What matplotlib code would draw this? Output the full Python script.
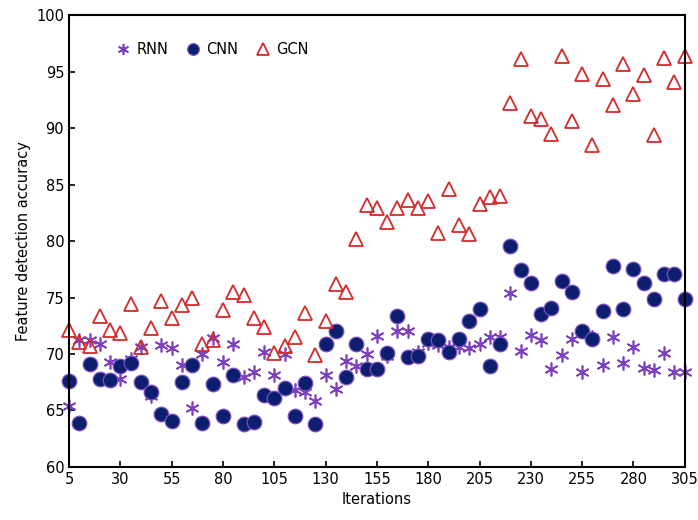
import numpy as np
import matplotlib
matplotlib.use("Agg")
import matplotlib.pyplot as plt

# data
iterations = np.arange(5, 306, 5)

rnn = [65.4, 71.2, 71.2, 70.9, 69.3, 67.8, 69.6, 70.6, 66.3, 70.8,
       70.5, 69.0, 65.2, 70.0, 71.4, 69.3, 70.9, 68.0, 68.4, 70.2,
       68.1, 70.0, 66.8, 66.6, 65.8, 68.1, 66.9, 69.4, 68.9, 70.0,
       71.6, 69.8, 72.0, 72.0, 70.2, 71.0, 70.8, 70.6, 70.6, 70.5,
       70.9, 71.5, 71.5, 75.4, 70.3, 71.7, 71.2, 68.7, 69.9, 71.3,
       68.4, 71.5, 69.0, 71.5, 69.2, 70.6, 68.8, 68.6, 70.1, 68.4,
       68.4]

cnn = [67.6, 63.9, 69.1, 67.8, 67.7, 68.9, 69.2, 67.5, 66.6, 64.7,
       64.1, 67.5, 69.0, 63.9, 67.3, 64.5, 68.1, 63.8, 64.0, 66.4,
       66.1, 67.0, 64.5, 67.4, 63.8, 70.9, 72.0, 68.0, 70.9, 68.7,
       68.7, 70.1, 73.4, 69.7, 69.8, 71.3, 71.2, 70.2, 71.3, 72.9,
       74.0, 68.9, 70.9, 79.6, 77.4, 76.3, 73.5, 74.1, 76.5, 75.5,
       72.0, 71.3, 73.8, 77.8, 74.0, 77.5, 76.3, 74.9, 77.1, 77.1,
       74.9]

gcn = [72.1, 71.1, 70.7, 73.4, 72.1, 71.9, 74.4, 70.6, 72.3, 74.7,
       73.2, 74.3, 75.0, 70.9, 71.2, 73.9, 75.5, 75.2, 73.2, 72.4,
       70.1, 70.7, 71.5, 73.6, 69.9, 72.9, 76.2, 75.5, 80.2, 83.2,
       82.9, 81.7, 82.9, 83.6, 82.9, 83.5, 80.7, 84.6, 81.4, 80.6,
       83.3, 83.9, 84.0, 92.2, 96.1, 91.1, 90.8, 89.5, 96.4, 90.6,
       94.8, 88.5, 94.3, 92.0, 95.7, 93.0, 94.7, 89.4, 96.2, 94.1,
       96.4]

xticks = np.arange(5, 306, 25)
yticks = np.arange(60, 101, 5)

fig = plt.figure(figsize=(6.98, 5.2), dpi=100)
ax = fig.add_axes([0.099, 0.102, 0.882, 0.869])

ax.plot(iterations, rnn, linestyle='none', marker=(6, 2, 0), markersize=10,
        color='#7B3FC0', markeredgewidth=1.2, label='RNN', clip_on=False)
ax.plot(iterations, cnn, linestyle='none', marker='o', markersize=10.5,
        markerfacecolor='#0B1F6E', markeredgecolor='#7B4FC0',
        markeredgewidth=0.9, label='CNN', clip_on=False)
ax.plot(iterations, gcn, linestyle='none', marker='^', markersize=10,
        markerfacecolor='none', markeredgecolor='#D42A2A',
        markeredgewidth=1.3, label='GCN', clip_on=False)

ax.set_xlim(5, 305)
ax.set_ylim(60, 100)
ax.set_xticks(xticks)
ax.set_yticks(yticks)
ax.tick_params(direction='in', length=4, width=1.2, labelsize=10.5,
               top=False, right=False)
for s in ax.spines.values():
    s.set_linewidth(1.5)

ax.set_xlabel('Iterations', fontsize=10.5)
ax.set_ylabel('Feature detection accuracy', fontsize=10.5)

ax.legend(loc='upper left', bbox_to_anchor=(0.05, 0.97), ncol=3,
          frameon=False, fontsize=10.5, handletextpad=0.2,
          columnspacing=1.0, handlelength=1.4, markerscale=0.8)

fig.savefig('out.png', dpi=100)
